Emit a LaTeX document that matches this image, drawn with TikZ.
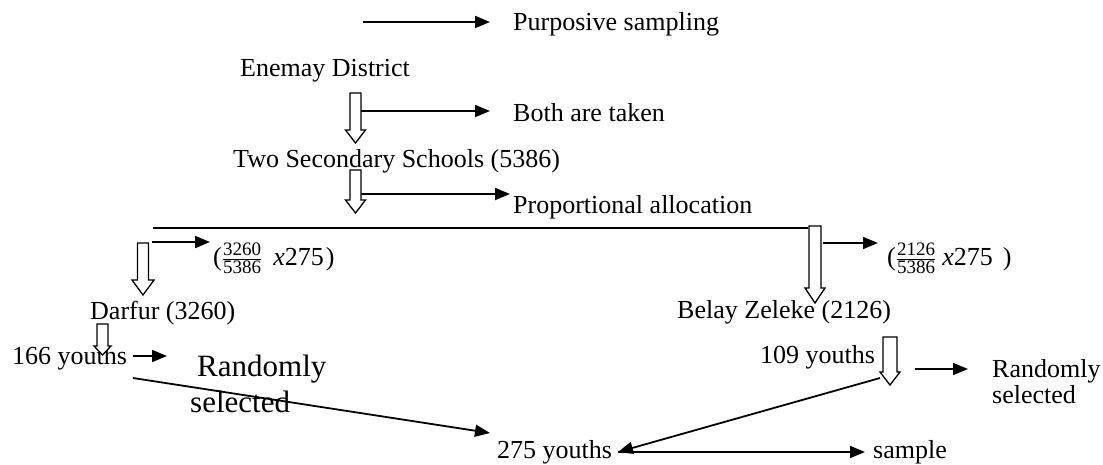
\documentclass[tikz,border=0pt]{standalone}
\usepackage{fontspec}
\setmainfont{Liberation Serif}
\usetikzlibrary{arrows.meta}
\newcommand{\hollowarr}[6]{% cx, ytop, ytip, shaft half width, head half width, head length
  \draw[hollow] ({#1-#4},#2) -- ({#1+#4},#2) -- ({#1+#4},{#3-#6}) -- ({#1+#5},{#3-#6})
    -- (#1,#3) -- ({#1-#5},{#3-#6}) -- ({#1-#4},{#3-#6}) -- cycle;}
\newcommand{\smallnum}[1]{\hbox{\fontsize{19}{19}\selectfont #1}}
\newcommand{\propfrac}[2]{$\frac{\smallnum{#1}}{\smallnum{#2}}$}
\begin{document}
\begin{tikzpicture}[x=1pt,y=-1pt,
  txt/.style={inner sep=0pt, anchor=base west, font=\fontsize{26}{30}\selectfont},
  bigtxt/.style={inner sep=0pt, anchor=base west, font=\fontsize{31}{36}\selectfont},
  arr/.style={line width=1.8pt, -{Triangle[length=15pt,width=12pt]}},
  plainline/.style={line width=1.6pt},
  hollow/.style={line width=1.3pt, fill=white, line join=miter}]
\useasboundingbox (0,0) rectangle (1103,464);

% text nodes
\node[txt] (purp) at (513,30) {Purposive sampling};
\node[txt] (enemay) at (240,76) {Enemay District};
\node[txt] (both) at (513,121) {Both are taken};
\node[txt] (two) at (233,167) {Two Secondary Schools (5386)};
\node[txt] (prop) at (513,213) {Proportional allocation};
\node[txt] (fracL) at (213,265) {(\propfrac{3260}{5386}\hspace{11pt}\textit{x}275\hspace{2pt})};
\node[txt] (fracR) at (887,265) {(\propfrac{2126}{5386}\hspace{6pt}\textit{x}275\hspace{10pt})};
\node[txt] (darfur) at (90,319) {Darfur (3260)};
\node[txt] (belay) at (677,318) {Belay Zeleke (2126)};
\node[txt] (y166) at (12,364) {166 youths};
\node[bigtxt] (randL) at (197,376) {Randomly};
\node[bigtxt] (selL) at (190,412) {selected};
\node[txt] (y109) at (760,363) {109 youths};
\node[txt] (randR) at (992,377) {Randomly};
\node[txt] (selR) at (992,403) {selected};
\node[txt] (y275) at (497,458) {275 youths};
\node[txt] (sample) at (873,458) {sample};

% connector end points
\coordinate (p1) at (363,22);   \coordinate (p2) at (490,22);
\coordinate (b1) at (361,111);  \coordinate (b2) at (490,111);
\coordinate (r1) at (361,194);  \coordinate (r2) at (510,194);
\coordinate (l1) at (153,228);  \coordinate (l2) at (808,228);
\coordinate (fl1) at (152,242); \coordinate (fl2) at (210,242);
\coordinate (fr1) at (823,243); \coordinate (fr2) at (878,243);
\coordinate (s1) at (133,356);  \coordinate (s2) at (167,356);
\coordinate (d1) at (133,378);  \coordinate (d2) at (490,433);
\coordinate (n1) at (915,369);  \coordinate (n2) at (968,369);
\coordinate (e1) at (880,378);  \coordinate (e2) at (618,452);
\coordinate (h2) at (865,452);

% thin arrows and line
\draw[arr] (p1) -- (p2);
\draw[arr] (b1) -- (b2);
\draw[arr] (r1) -- (r2);
\draw[plainline] (l1) -- (l2);
\draw[arr] (fl1) -- (fl2);
\draw[arr] (fr1) -- (fr2);
\draw[arr] (s1) -- (s2);
\draw[arr] (d1) -- (d2);
\draw[arr] (n1) -- (n2);
\draw[arr] (e2) -- (h2);
\draw[arr] (e1) -- (e2);

% hollow arrows
\hollowarr{355.5}{93}{143}{5.5}{10}{13}
\hollowarr{355.5}{170}{213}{5.5}{10}{13}
\hollowarr{143}{243}{295}{5.5}{11}{15}
\hollowarr{815}{226}{303}{6}{10}{15}
\hollowarr{102.5}{324}{355}{5.5}{8.5}{9}
\hollowarr{890}{337}{385}{7}{10}{13}
\end{tikzpicture}
\end{document}
